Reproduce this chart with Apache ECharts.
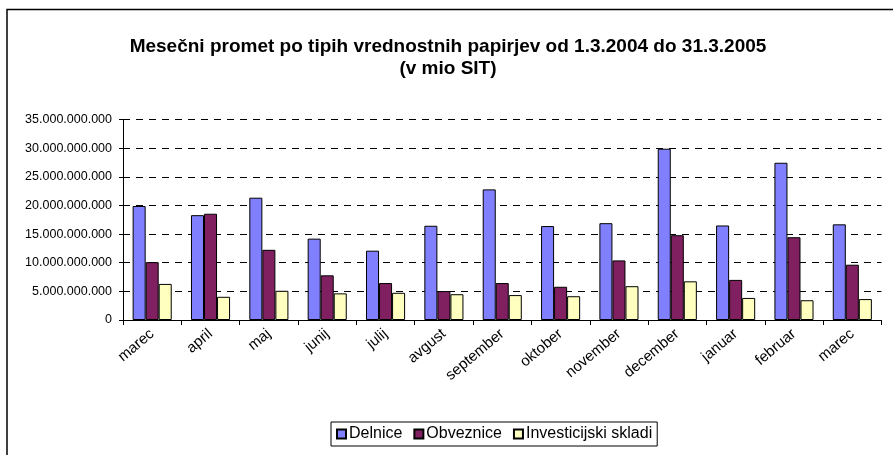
<!DOCTYPE html>
<html>
<head>
<meta charset="utf-8">
<title>Mesečni promet</title>
<style>
  * { margin: 0; padding: 0; box-sizing: border-box; }
  body { background: #ffffff; width: 893px; height: 455px; overflow: hidden; }
  #chart { width: 893px; height: 455px; }
</style>
<script src="https://cdn.jsdelivr.net/npm/echarts@6/dist/echarts.min.js"></script>
</head>
<body>
<div id="chart"></div>
<script>
// meseci (od marca 2004 do marca 2005)
const months = ['marec', 'april', 'maj', 'junij', 'julij', 'avgust', 'september',
  'oktober', 'november', 'december', 'januar', 'februar', 'marec'];

// vrednosti v milijardah, odčitane s slike
const delnice = [19.9, 18.3, 21.35, 14.2, 12.1, 16.45, 22.8, 16.4, 16.9, 29.9, 16.5, 27.45, 16.7];
const obveznice = [10.1, 18.55, 12.25, 7.8, 6.45, 5.05, 6.45, 5.8, 10.4, 14.8, 7.0, 14.45, 9.65];
const skladi = [6.3, 4.05, 5.1, 4.65, 4.75, 4.5, 4.35, 4.15, 5.9, 6.75, 3.85, 3.45, 3.65];

const yTicks = [0, 5e9, 10e9, 15e9, 20e9, 25e9, 30e9, 35e9];

const toSit = arr => arr.map(v => Math.round(v * 1e9));

// 35000000000 -> 35.000.000.000
function fmt(v) {
  return String(Math.round(v)).replace(/\B(?=(\d{3})+(?!\d))/g, '.');
}

const FONT = 'Liberation Sans, Arial, sans-serif';
const chart = echarts.init(document.getElementById('chart'));

function bar(name, data, color) {
  return {
    name: name,
    type: 'bar',
    data: toSit(data),
    barGap: '0%',
    barCategoryGap: '33%',
    itemStyle: { color: color, borderColor: '#000', borderWidth: 1 }
  };
}

chart.setOption({
  animation: false,
  backgroundColor: '#fff',
  textStyle: { fontFamily: FONT, color: '#000' },
  graphic: [{
    type: 'rect',
    shape: { x: 7, y: 9.5, width: 920, height: 480 },
    style: { fill: null, stroke: '#000', lineWidth: 1.5 },
    z: 0
  }],
  title: {
    text: 'Mesečni promet po tipih vrednostnih papirjev od 1.3.2004 do 31.3.2005\n(v mio SIT)',
    left: 443,
    textAlign: 'center',
    top: 31,
    textStyle: { fontSize: 19, fontWeight: 'bold', color: '#000', lineHeight: 22, fontFamily: FONT }
  },
  legend: {
    left: 331,
    top: 422,
    icon: 'rect',
    itemWidth: 9,
    itemHeight: 9,
    itemGap: 11,
    padding: [4, 5, 4, 5],
    borderColor: '#000',
    borderWidth: 1,
    textStyle: { fontSize: 16, color: '#000', padding: [0, 0, 0, -2], fontFamily: FONT },
    data: ['Delnice', 'Obveznice', 'Investicijski skladi']
  },
  grid: {
    left: 123,
    top: 119.5,
    right: 11.5,
    bottom: 135,
    containLabel: false,
    outerBoundsMode: 'none'
  },
  xAxis: {
    type: 'category',
    data: months,
    axisLine: { lineStyle: { color: '#000', width: 1 } },
    axisTick: { show: true, length: 5, lineStyle: { color: '#000' } },
    axisLabel: { rotate: 40, fontSize: 15, color: '#000', margin: 12 },
    splitLine: { show: false }
  },
  yAxis: {
    type: 'value',
    min: yTicks[0],
    max: yTicks[yTicks.length - 1],
    interval: yTicks[1] - yTicks[0],
    axisLine: { show: true, lineStyle: { color: '#000', width: 1 } },
    axisTick: { show: true, length: 4, lineStyle: { color: '#000' } },
    axisLabel: { fontSize: 12.5, color: '#000', margin: 11, formatter: fmt },
    splitLine: { show: true, lineStyle: { color: '#000', type: [7, 6], width: 1 } }
  },
  series: [
    bar('Delnice', delnice, '#8080FF'),
    bar('Obveznice', obveznice, '#802060'),
    bar('Investicijski skladi', skladi, '#FFFFC0')
  ]
});
</script>
</body>
</html>
